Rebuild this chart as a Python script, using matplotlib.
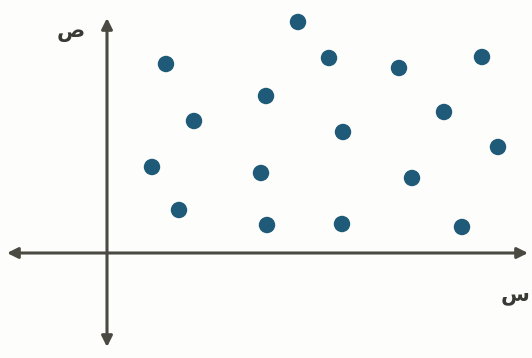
import matplotlib
matplotlib.use("Agg")
import matplotlib.pyplot as plt

# data (units relative to origin)
xs = [19.1, 5.9, 22.2, 29.2, 37.5, 15.9, 8.7, 33.7, 23.6, 39.1, 4.5, 15.4, 30.5, 7.2, 16.0, 23.5, 35.5]
ys = [23.1, 18.9, 19.5, 18.5, 19.6, 15.7, 13.2, 14.1, 12.1, 10.6, 8.6, 8.0, 7.5, 4.3, 2.8, 2.9, 2.6]
x_label = "س"
y_label = "ص"

fig = plt.figure(figsize=(5.32, 3.58), dpi=100)
ax = fig.add_axes([0, 0, 1, 1])
ax.set_xlim(-10.7, 42.5)
ax.set_ylim(-10.5, 25.3)
ax.axis("off")
fig.patch.set_facecolor("#fdfdfb")

axis_color = "#4b4a42"
arrow_kw = dict(arrowstyle="<|-|>", color=axis_color, lw=2.2,
                mutation_scale=16, shrinkA=0, shrinkB=0)
ax.annotate("", xy=(42.1, 0), xytext=(-10.0, 0), arrowprops=arrow_kw)
ax.annotate("", xy=(0, 23.5), xytext=(0, -9.4), arrowprops=arrow_kw)

ax.scatter(xs, ys, s=140, color="#1f5a78", zorder=3, edgecolors="none")

ax.text(-3.6, 22.1, y_label, fontsize=15, fontweight="bold", color="#3a3a34",
        ha="center", va="center", family=["DejaVu Sans"])
ax.text(40.8, -4.2, x_label, fontsize=15, fontweight="bold", color="#3a3a34",
        ha="center", va="center", family=["DejaVu Sans"])

fig.savefig("out.png", dpi=100, facecolor=fig.get_facecolor())
